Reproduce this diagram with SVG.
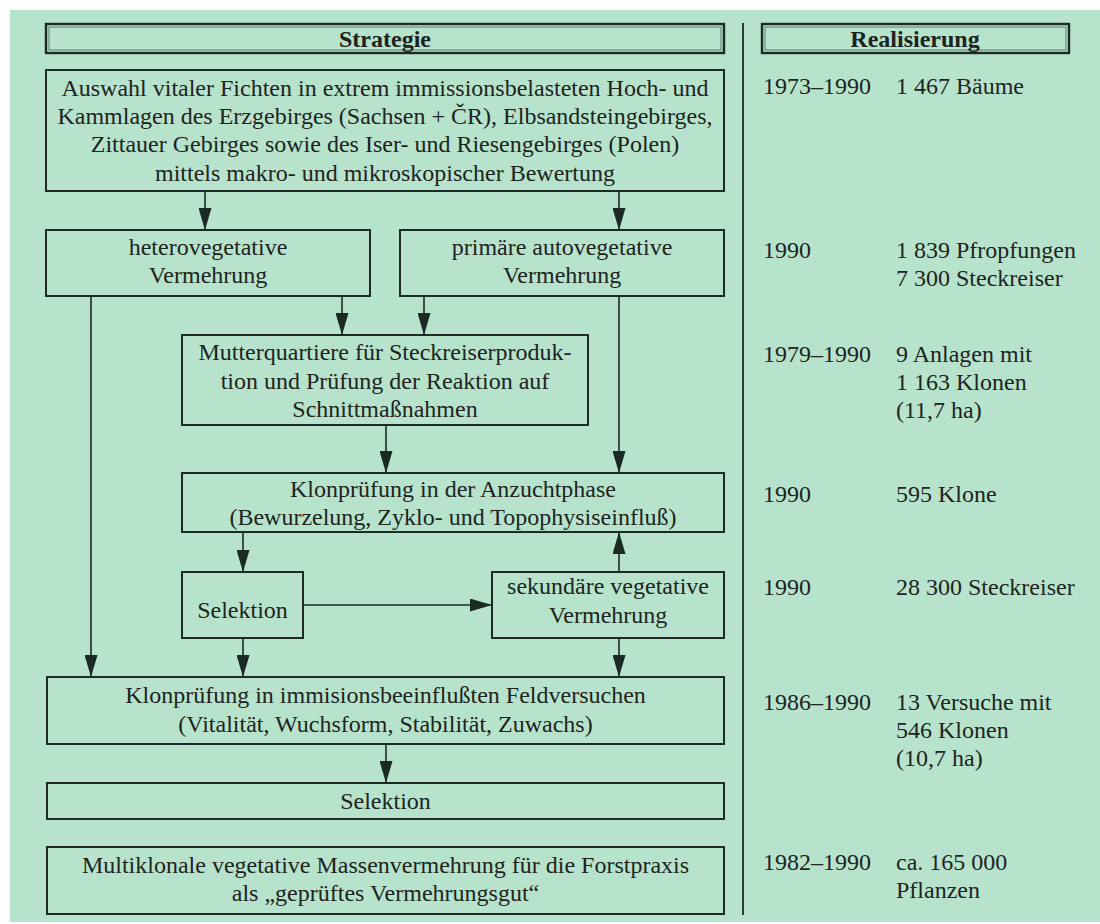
<svg xmlns="http://www.w3.org/2000/svg" width="1100" height="924" viewBox="0 0 1100 924">
<defs>
<marker id="ah" markerWidth="22" markerHeight="13" refX="22" refY="6.5" viewBox="0 0 22 13" markerUnits="userSpaceOnUse" orient="auto">
<path d="M0,0 L22,6.5 L0,13 Z" fill="#1c2a24"/>
</marker>
<style>
.box{fill:none;stroke:#1c2a24;stroke-width:2}
.hdr{fill:none;stroke:#1c2a24;stroke-width:2.4}
.hin{fill:none;stroke:#5f7d70;stroke-width:1}
.t{font-family:"Liberation Serif","Times New Roman",serif;font-size:24px;fill:#1d2420;text-anchor:middle}
.r{font-family:"Liberation Serif","Times New Roman",serif;font-size:24px;fill:#1d2420}
.b{font-weight:bold}
.c{fill:none;stroke:#1c2a24;stroke-width:1.6}
</style>
</defs>
<rect x="10" y="10" width="1090" height="912" fill="#b7e3cd"/>
<line x1="743" y1="23" x2="743" y2="915" stroke="#1c2a24" stroke-width="1.8"/>

<g id="hdr-strategie">
<rect class="hdr" x="46" y="24" width="678" height="29"/>
<rect class="hin" x="49" y="27" width="672" height="23"/>
<text class="t b" x="385" y="47">Strategie</text>
</g>
<g id="hdr-realisierung">
<rect class="hdr" x="762" y="24" width="307" height="29"/>
<rect class="hin" x="765" y="27" width="301" height="23"/>
<text class="t b" x="915" y="47">Realisierung</text>
</g>

<g id="n-auswahl">
<rect class="box" x="46" y="70" width="678" height="121"/>
<text class="t" x="385" y="96">Auswahl vitaler Fichten in extrem immissionsbelasteten Hoch- und</text>
<text class="t" x="385" y="124">Kammlagen des Erzgebirges (Sachsen + ČR), Elbsandsteingebirges,</text>
<text class="t" x="385" y="152">Zittauer Gebirges sowie des Iser- und Riesengebirges (Polen)</text>
<text class="t" x="385" y="181">mittels makro- und mikroskopischer Bewertung</text>
</g>
<g id="n-hetero">
<rect class="box" x="46" y="230" width="324" height="66"/>
<text class="t" x="208" y="255">heterovegetative</text>
<text class="t" x="208" y="283">Vermehrung</text>
</g>
<g id="n-primaer">
<rect class="box" x="400" y="230" width="324" height="66"/>
<text class="t" x="562" y="255">primäre autovegetative</text>
<text class="t" x="562" y="283">Vermehrung</text>
</g>
<g id="n-mutter">
<rect class="box" x="182" y="335" width="406" height="90"/>
<text class="t" x="385" y="360">Mutterquartiere für Steckreiserproduk-</text>
<text class="t" x="385" y="389">tion und Prüfung der Reaktion auf</text>
<text class="t" x="385" y="417">Schnittmaßnahmen</text>
</g>
<g id="n-anzucht">
<rect class="box" x="182" y="473" width="542" height="59"/>
<text class="t" x="453" y="497">Klonprüfung in der Anzuchtphase</text>
<text class="t" x="453" y="525">(Bewurzelung, Zyklo- und Topophysiseinfluß)</text>
</g>
<g id="n-selektion1">
<rect class="box" x="182" y="572" width="121" height="66"/>
<text class="t" x="242.5" y="618">Selektion</text>
</g>
<g id="n-sekundaer">
<rect class="box" x="492" y="572" width="232" height="66"/>
<text class="t" x="608" y="594">sekundäre vegetative</text>
<text class="t" x="608" y="623">Vermehrung</text>
</g>
<g id="n-feld">
<rect class="box" x="47" y="677" width="677" height="67"/>
<text class="t" x="385.5" y="703">Klonprüfung in immisionsbeeinflußten Feldversuchen</text>
<text class="t" x="385.5" y="732">(Vitalität, Wuchsform, Stabilität, Zuwachs)</text>
</g>
<g id="n-selektion2">
<rect class="box" x="47" y="783" width="677" height="36"/>
<text class="t" x="385.5" y="809">Selektion</text>
</g>
<g id="n-multi">
<rect class="box" x="47" y="847" width="677" height="67"/>
<text class="t" x="385.5" y="873">Multiklonale vegetative Massenvermehrung für die Forstpraxis</text>
<text class="t" x="385.5" y="901">als „geprüftes Vermehrungsgut“</text>
</g>

<g id="connectors">
<line class="c" x1="205" y1="191" x2="205" y2="230" marker-end="url(#ah)"/>
<line class="c" x1="619" y1="191" x2="619" y2="230" marker-end="url(#ah)"/>
<line class="c" x1="342" y1="296" x2="342" y2="335" marker-end="url(#ah)"/>
<line class="c" x1="424" y1="296" x2="424" y2="335" marker-end="url(#ah)"/>
<line class="c" x1="91" y1="296" x2="91" y2="677" marker-end="url(#ah)"/>
<line class="c" x1="619" y1="296" x2="619" y2="473" marker-end="url(#ah)"/>
<line class="c" x1="386" y1="425" x2="386" y2="473" marker-end="url(#ah)"/>
<line class="c" x1="243" y1="532" x2="243" y2="572" marker-end="url(#ah)"/>
<line class="c" x1="303" y1="605" x2="492" y2="605" marker-end="url(#ah)"/>
<line class="c" x1="619" y1="572" x2="619" y2="532" marker-end="url(#ah)"/>
<line class="c" x1="243" y1="638" x2="243" y2="677" marker-end="url(#ah)"/>
<line class="c" x1="619" y1="638" x2="619" y2="677" marker-end="url(#ah)"/>
<line class="c" x1="386" y1="744" x2="386" y2="783" marker-end="url(#ah)"/>
</g>

<g id="realisierung">
<text class="r" x="763" y="94">1973–1990</text><text class="r" x="896" y="94">1 467 Bäume</text>
<text class="r" x="763" y="258">1990</text><text class="r" x="896" y="258">1 839 Pfropfungen</text>
<text class="r" x="896" y="286">7 300 Steckreiser</text>
<text class="r" x="763" y="362">1979–1990</text><text class="r" x="896" y="362">9 Anlagen mit</text>
<text class="r" x="896" y="390">1 163 Klonen</text>
<text class="r" x="896" y="418">(11,7 ha)</text>
<text class="r" x="763" y="502">1990</text><text class="r" x="896" y="502">595 Klone</text>
<text class="r" x="763" y="595">1990</text><text class="r" x="896" y="595">28 300 Steckreiser</text>
<text class="r" x="763" y="710">1986–1990</text><text class="r" x="896" y="710">13 Versuche mit</text>
<text class="r" x="896" y="738">546 Klonen</text>
<text class="r" x="896" y="766">(10,7 ha)</text>
<text class="r" x="763" y="870">1982–1990</text><text class="r" x="896" y="870">ca. 165 000</text>
<text class="r" x="896" y="898">Pflanzen</text>
</g>
</svg>
